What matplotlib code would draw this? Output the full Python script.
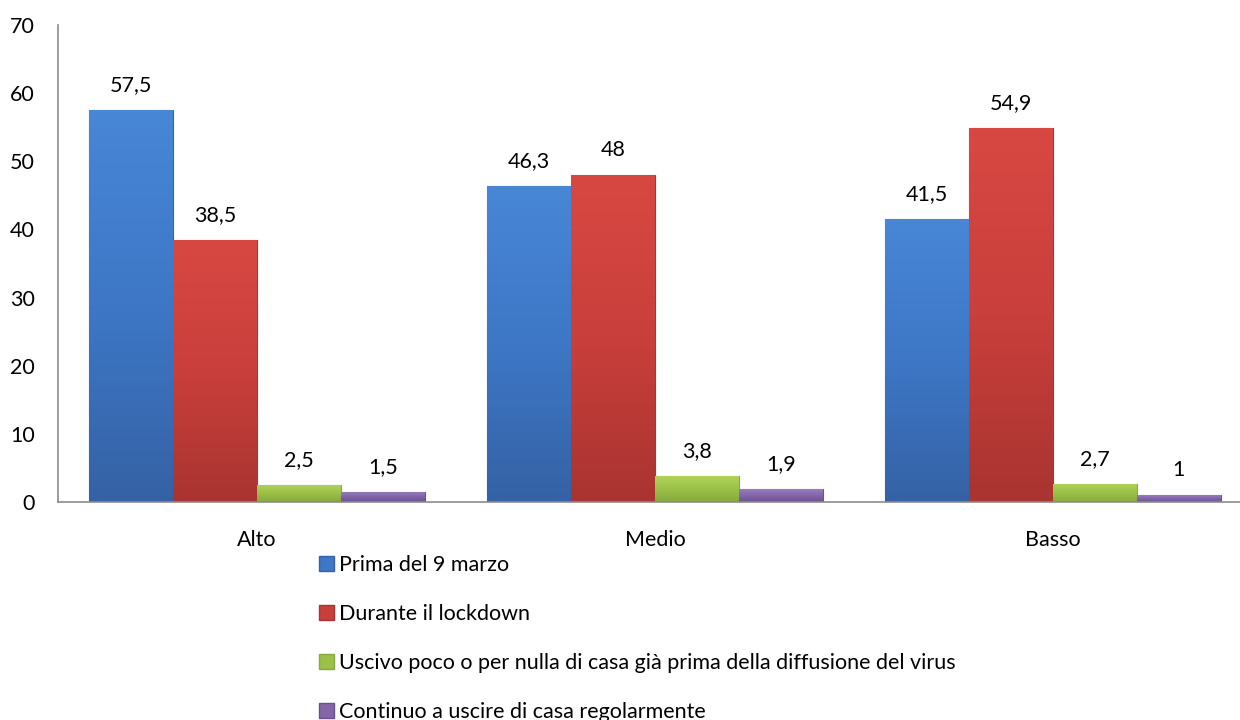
import matplotlib
matplotlib.use("Agg")
import matplotlib.pyplot as plt
import numpy as np
from matplotlib.colors import LinearSegmentedColormap
from matplotlib.patches import Patch

categories = ["Alto", "Medio", "Basso"]
series_names = [
    "Prima del 9 marzo",
    "Durante il lockdown",
    "Uscivo poco o per nulla di casa già prima della diffusione del virus",
    "Continuo a uscire di casa regolarmente",
]
prima = [57.5, 46.3, 41.5]
durante = [38.5, 48.0, 54.9]
uscivo = [2.5, 3.8, 2.7]
continuo = [1.5, 1.9, 1.0]
value_labels = [
    ["57,5", "46,3", "41,5"],
    ["38,5", "48", "54,9"],
    ["2,5", "3,8", "2,7"],
    ["1,5", "1,9", "1"],
]
yticks = [0, 10, 20, 30, 40, 50, 60, 70]

series = [prima, durante, uscivo, continuo]
top_colors = ["#4887d6", "#d84843", "#b0d258", "#977cc0"]
bot_colors = ["#3562a5", "#a93431", "#86aa3b", "#6b5090"]
mid_colors = ["#3d77c6", "#c93f3b", "#9cc148", "#8466a8"]

plt.rcParams['font.family'] = ['Lato', 'DejaVu Sans']
fig = plt.figure(figsize=(12.4, 7.2), dpi=100)
ax = fig.add_axes([58/1240, 218/720, (1240-58)/1240, (502-25)/720])

x = np.arange(len(categories))
w = 0.211
offsets = (np.arange(4) - 1.5) * w
fs = 15.5
for i, vals in enumerate(series):
    bars = ax.bar(x + offsets[i], vals, width=w, color=mid_colors[i],
                  edgecolor=bot_colors[i], linewidth=0.8, zorder=2)
    cmap = LinearSegmentedColormap.from_list("g", [bot_colors[i], mid_colors[i], top_colors[i]])
    for b, lab in zip(bars, value_labels[i]):
        x0, y0 = b.get_x(), b.get_y()
        bw, bh = b.get_width(), b.get_height()
        grad = np.linspace(0, 1, 100).reshape(-1, 1)
        im = ax.imshow(grad, extent=[x0, x0 + bw, y0, y0 + bh], origin='lower',
                       cmap=cmap, aspect='auto', zorder=2.5)
        im.set_clip_path(b)
        ax.annotate(lab, (x0 + bw / 2, y0 + bh), xytext=(0, 18),
                    textcoords='offset points', ha='center', va='center',
                    fontsize=fs, color='black', zorder=3)

ax.set_xlim(-0.5, (1240 - 257) / 398)
ax.set_ylim(0, 70)
ax.set_yticks(yticks)
ax.set_yticklabels([str(t) for t in yticks], fontsize=fs)
ax.set_xticks(x)
ax.set_xticklabels(categories, fontsize=fs)
ax.tick_params(axis='y', length=0, pad=16.5)
ax.tick_params(axis='x', length=0, pad=20)
for s in ['top', 'right']:
    ax.spines[s].set_visible(False)
for s in ['left', 'bottom']:
    ax.spines[s].set_color('#8c8c8c')
    ax.spines[s].set_linewidth(1.2)

handles = [Patch(facecolor=mid_colors[i], edgecolor=bot_colors[i]) for i in range(4)]
fig.legend(handles, series_names, loc='upper left', bbox_to_anchor=(319/1240, 1 - 555/720),
           frameon=False, fontsize=fs, handlelength=0.7, handleheight=0.7,
           handletextpad=0.25, labelspacing=1.35, borderaxespad=0, borderpad=0)

fig.savefig("out.png", dpi=100)
